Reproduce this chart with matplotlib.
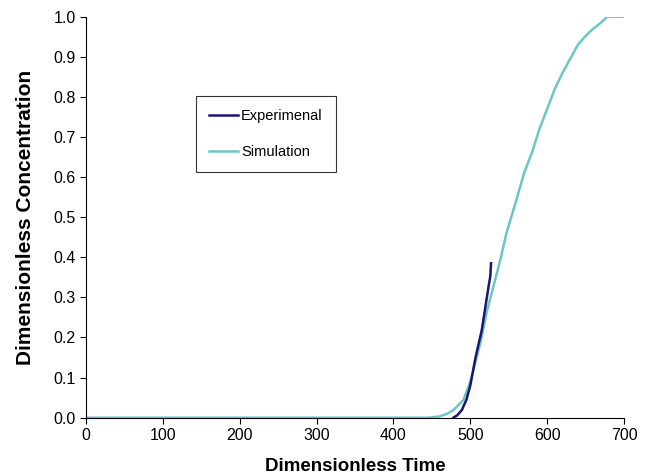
import matplotlib
matplotlib.use("Agg")
import matplotlib.pyplot as plt
from matplotlib.ticker import FormatStrFormatter

# data
sim_t = [0, 445, 460, 470, 478, 491, 500, 513, 521, 530, 539, 547, 560,
         570, 580, 590, 600, 610, 620, 630, 640, 650, 660, 670, 678, 700]
sim_c = [0.0, 0.0, 0.003, 0.01, 0.019, 0.044, 0.09, 0.185, 0.26, 0.327,
         0.393, 0.46, 0.543, 0.61, 0.66, 0.72, 0.77, 0.82, 0.86, 0.895, 0.93,
         0.952, 0.97, 0.985, 1.0, 1.0]

exp_t = [478, 483, 489, 495, 500, 507, 515, 521, 524, 526, 527]
exp_c = [0.0, 0.006, 0.019, 0.045, 0.08, 0.152, 0.219, 0.293, 0.33, 0.352,
         0.385]

plt.rcParams["font.family"] = ["Liberation Sans", "DejaVu Sans"]

fig = plt.figure(figsize=(6.49, 4.74), dpi=100)
ax = fig.add_axes([0.1325, 0.1188, 0.829, 0.846])

ax.plot(exp_t, exp_c, color="#1b1670", lw=1.8, label="Experimenal", zorder=3)
ax.plot(sim_t, sim_c, color="#6cc6c4", lw=1.8, label="Simulation", zorder=2)

ax.set_xlim(0, 700)
ax.set_ylim(0, 1.0)
ax.set_xticks(range(0, 701, 100))
ax.set_yticks([i / 10 for i in range(11)])
ax.yaxis.set_major_formatter(FormatStrFormatter("%.1f"))
ax.tick_params(direction="out", length=4, width=0.8, labelsize=11.5, colors="black")
for s in ("top", "right"):
    ax.spines[s].set_visible(False)
for s in ("left", "bottom"):
    ax.spines[s].set_linewidth(0.8)

ax.set_xlabel("Dimensionless Time", fontsize=13.5, fontweight="bold", labelpad=11)
ax.set_ylabel("Dimensionless Concentration", fontsize=15, fontweight="bold", labelpad=13)

leg = ax.legend(loc="upper left", bbox_to_anchor=(0.2045, 0.802), fontsize=10.5,
                frameon=True, fancybox=False, shadow=False, handlelength=2.0,
                labelspacing=1.5, borderpad=0.9, handletextpad=0.2,
                borderaxespad=0)
leg.get_frame().set_edgecolor("black")
leg.get_frame().set_linewidth(0.8)

fig.savefig("out.png", dpi=100)
